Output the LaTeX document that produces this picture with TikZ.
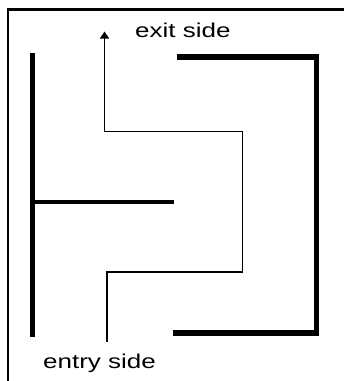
\documentclass[tikz,border=0pt]{standalone}
\usepackage{fontspec}
\setmainfont{Liberation Sans}[FakeStretch=1.3]
\usetikzlibrary{arrows.meta}
\begin{document}
\begin{tikzpicture}[x=1pt,y=-1pt,
  frameline/.style={line width=2.5pt},
  wall/.style={line width=5.5pt, line cap=butt, line join=miter},
  innerwall/.style={line width=3.8pt, line cap=butt},
  route/.style={line width=1.5pt, line join=miter},
  lbl/.style={anchor=base west, inner sep=0pt, font=\fontsize{20}{23}\selectfont}]
\useasboundingbox (0,0) rectangle (344,381);
\fill[white] (0,0) rectangle (344,381);
% frame (top and left)
\coordinate (fr1) at (344,9.5);
\coordinate (fr2) at (8,9.5);
\coordinate (fr3) at (8,381);
\draw[frameline] (fr1) -- (fr2) -- (fr3);
% left wall
\coordinate (lw1) at (32.5,53);
\coordinate (lw2) at (32.5,337);
\draw[wall] (lw1) -- (lw2);
% middle wall
\coordinate (mw1) at (32.5,202);
\coordinate (mw2) at (174,202);
\draw[innerwall] (mw1) -- (mw2);
% right bracket
\coordinate (rb1) at (177,57);
\coordinate (rb2) at (316.5,57);
\coordinate (rb3) at (316.5,333);
\coordinate (rb4) at (173,333);
\draw[wall] (rb1) -- (rb2) -- (rb3) -- (rb4);
% route
\coordinate (entry) at (107,342);
\coordinate (r1) at (107,272);
\coordinate (r2) at (242.5,272);
\coordinate (r3) at (242.5,131.5);
\coordinate (r4) at (104.5,131.5);
\coordinate (exit) at (104.5,31.5);
\draw[route,-{Triangle[length=7pt,width=9pt]}] (entry) -- (r1) -- (r2) -- (r3) -- (r4) -- (exit);
% labels
\node[lbl] (exitlbl) at (135,37) {exit side};
\node[lbl] (entrylbl) at (43,368) {entry side};
\end{tikzpicture}
\end{document}
